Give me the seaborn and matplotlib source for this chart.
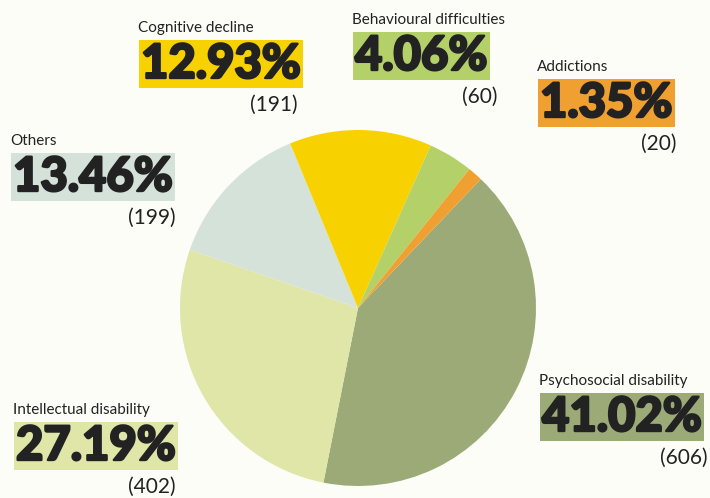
#!/usr/bin/env python3
import matplotlib
matplotlib.use("Agg")
import matplotlib.pyplot as plt
import matplotlib.patheffects as pe
import seaborn as sns

categories = ["Psychosocial disability", "Intellectual disability", "Others",
              "Cognitive decline", "Behavioural difficulties", "Addictions"]
counts = [606, 402, 199, 191, 60, 20]
percents = ["41.02%", "27.19%", "13.46%", "12.93%", "4.06%", "1.35%"]
colors = ["#9caa78", "#dfe6a8", "#d5e2da", "#f8d200", "#b3d168", "#f0a030"]

# label anchor (left x, y of label line) in pixels, and right edge of the count
label_pos = {
    "Psychosocial disability": (539, 381, 708),
    "Intellectual disability": (13, 410, 176),
    "Others": (10, 141, 176),
    "Cognitive decline": (138, 28, 298),
    "Behavioural difficulties": (352, 20, 498),
    "Addictions": (537, 67, 676),
}

W, H = 710, 498
BG = "#fdfdf8"
INK = "#222222"


def main():
    sns.set_theme(style="white")
    plt.rcParams["font.family"] = ["Lato", "DejaVu Sans"]

    fig = plt.figure(figsize=(W / 100, H / 100), dpi=100, facecolor=BG)
    ax = fig.add_axes([180 / W, 12 / H, 356 / W, 356 / H])
    ax.set_facecolor(BG)
    ax.pie(counts, colors=colors, startangle=46.4, counterclock=False,
           wedgeprops=dict(linewidth=0))
    ax.set_xlim(-1, 1)
    ax.set_ylim(-1, 1)
    ax.set_aspect("equal")
    ax.axis("off")

    # thicken the bold percentages a little, the original font is heavier
    heavy = [pe.withStroke(linewidth=1.7, foreground=INK)]
    for cat, cnt, pct, col in zip(categories, counts, percents, colors):
        x, y, xr = label_pos[cat]
        fig.text(x / W, 1 - y / H, cat, fontsize=11, color=INK,
                 ha="left", va="center")
        fig.text((x + 3) / W, 1 - (y + 36) / H, pct, fontsize=34,
                 fontweight="black", color=INK, ha="left", va="center",
                 path_effects=heavy,
                 bbox=dict(boxstyle="square,pad=0.05", fc=col, ec="none"))
        fig.text(xr / W, 1 - (y + 77) / H, f"({cnt})", fontsize=15,
                 color=INK, ha="right", va="center")

    fig.savefig("out.png", dpi=100, facecolor=BG)


if __name__ == "__main__":
    main()
